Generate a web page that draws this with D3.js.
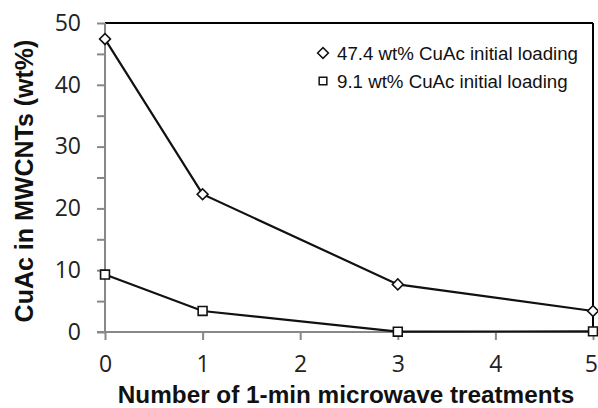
<!DOCTYPE html>
<html><head><meta charset="utf-8">
<script src="https://cdn.jsdelivr.net/npm/d3@7"></script>
<style>html,body{margin:0;padding:0;background:#fff;}svg{display:block;}</style>
</head><body>
<script>
const treatments = [0, 1, 3, 5];
const highLoading = [47.4, 22.3, 7.7, 3.4];
const lowLoading = [9.3, 3.4, 0.05, 0.1];
const seriesNames = ["47.4 wt% CuAc initial loading", "9.1 wt% CuAc initial loading"];
const yTicks = [0, 10, 20, 30, 40, 50];
const yMinorTicks = [0, 5, 10, 15, 20, 25, 30, 35, 40, 45, 50];
const xTicks = [0, 1, 2, 3, 4, 5];

const W = 598, H = 408;
const m = {l: 105, r: 5, t: 23, b: 76};
const svg = d3.select("body").append("svg").attr("width", W).attr("height", H);
const x = d3.scaleLinear().domain([0, 5]).range([m.l, W - m.r]);
const y = d3.scaleLinear().domain([0, 50]).range([H - m.b, m.t]);

// frame top/right
svg.append("line").attr("x1", x(0)).attr("x2", x(5)).attr("y1", y(50)).attr("y2", y(50)).attr("stroke", "#000").attr("stroke-width", 2);
svg.append("line").attr("x1", x(5)).attr("x2", x(5)).attr("y1", y(50)).attr("y2", y(0)).attr("stroke", "#000").attr("stroke-width", 2);

// y axis
const yAx = svg.append("g").attr("transform", `translate(${x(0)},0)`)
  .call(d3.axisLeft(y).tickValues(yMinorTicks).tickSize(8).tickFormat(""));
yAx.selectAll("path,line").attr("stroke", "#888").attr("stroke-width", 2);
yAx.select("path").attr("d", `M0,${y(0)}V${y(50)}`);
const yLab = svg.append("g").attr("transform", `translate(${x(0)},0)`)
  .call(d3.axisLeft(y).tickValues(yTicks).tickSize(0).tickPadding(24).tickFormat(d3.format("d")));
yLab.select("path").remove();
yLab.selectAll("text").attr("font-family", "Open Sans").attr("font-size", 23).attr("fill", "#222");

// x axis
const xAx = svg.append("g").attr("transform", `translate(0,${y(0)})`)
  .call(d3.axisBottom(x).tickValues(xTicks).tickSize(8).tickPadding(16).tickFormat(d3.format("d")));
xAx.selectAll("line").attr("stroke", "#888").attr("stroke-width", 2);
xAx.select("path").attr("stroke", "#888").attr("stroke-width", 2).attr("d", `M${x(0)-8},0H${x(5)}`);
xAx.selectAll("text").attr("font-family", "Open Sans").attr("font-size", 23).attr("fill", "#222");
xAx.selectAll(".tick").filter(d => d === 5).select("text").attr("dx", "-0.1em");

// titles
svg.append("text").attr("x", 346).attr("y", 402.5).attr("text-anchor", "middle")
  .attr("font-family", "Liberation Sans, Arial").attr("font-weight", "bold").attr("font-size", 24.3).attr("fill", "#111")
  .text("Number of 1-min microwave treatments");
svg.append("text").attr("transform", `translate(33,181) rotate(-90)`).attr("text-anchor", "middle")
  .attr("font-family", "Liberation Sans, Arial").attr("font-weight", "bold").attr("font-size", 25).attr("fill", "#111")
  .text("CuAc in MWCNTs (wt%)");

// lines
const line = d3.line().x((d, i) => x(treatments[i])).y(d => y(d));
[highLoading, lowLoading].forEach(s => {
  svg.append("path").datum(s).attr("d", line).attr("fill", "none").attr("stroke", "#111").attr("stroke-width", 2.2);
});
svg.selectAll(".dm").data(highLoading).join("path").attr("class", "dm")
  .attr("d", d3.symbol().type(d3.symbolSquare2).size(75))
  .attr("transform", (d, i) => `translate(${x(treatments[i])},${y(d)}) rotate(45)`)
  .attr("fill", "#fff").attr("stroke", "#111").attr("stroke-width", 1.6);
svg.selectAll(".sq").data(lowLoading).join("path").attr("class", "sq")
  .attr("transform", (d, i) => `translate(${x(treatments[i])},${y(d)})`)
  .attr("d", d3.symbol().type(d3.symbolSquare2).size(100))
  .attr("fill", "#fff").attr("stroke", "#111").attr("stroke-width", 1.6);

// legend
const lg = svg.append("g");
const legY = [53, 81];
lg.append("path").attr("d", d3.symbol().type(d3.symbolSquare2).size(75))
  .attr("transform", `translate(323,${legY[0]}) rotate(45)`).attr("fill", "#fff").attr("stroke", "#111").attr("stroke-width", 1.5);
lg.append("path").attr("d", d3.symbol().type(d3.symbolSquare2).size(75))
  .attr("transform", `translate(323,${legY[1]})`).attr("fill", "#fff").attr("stroke", "#111").attr("stroke-width", 1.5);
seriesNames.forEach((n, i) => {
  lg.append("text").attr("x", 337).attr("y", legY[i]).attr("dy", "0.35em")
    .attr("font-family", "Liberation Sans, Arial").attr("font-size", 18.7).attr("fill", "#111").text(n);
});
</script>
</body></html>
